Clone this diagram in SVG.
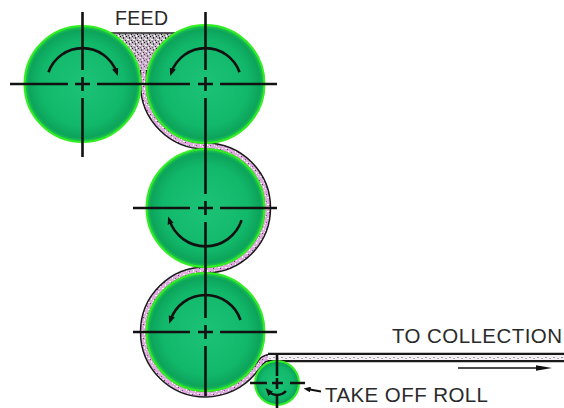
<svg xmlns="http://www.w3.org/2000/svg" width="564" height="408" viewBox="0 0 564 408">
  <defs>
    <radialGradient id="rollFill" cx="50%" cy="50%" r="50%">
      <stop offset="0" stop-color="#1cc377"/>
      <stop offset="0.72" stop-color="#12b86a"/>
      <stop offset="0.93" stop-color="#0ca45a"/>
      <stop offset="1" stop-color="#20d048"/>
    </radialGradient>
    <!-- grainy web material -->
    <pattern id="pinkGrain" width="7" height="7" patternUnits="userSpaceOnUse">
      <rect width="7" height="7" fill="#dfaadf"/>
      <rect x="1" y="1" width="2" height="1" fill="#ffffff"/>
      <rect x="4" y="4" width="1" height="2" fill="#ffffff"/>
      <rect x="5" y="1" width="1" height="1" fill="#f6e6f6"/>
      <rect x="3" y="2" width="1" height="1" fill="#6a3a6a"/>
      <rect x="0" y="5" width="1" height="1" fill="#8a508a"/>
      <rect x="6" y="6" width="1" height="1" fill="#ffffff"/>
    </pattern>
    <pattern id="grit" width="6" height="6" patternUnits="userSpaceOnUse">
      <rect width="6" height="6" fill="#b8b0b8"/>
      <rect x="0" y="0" width="1" height="1" fill="#111"/>
      <rect x="3" y="1" width="1" height="2" fill="#333"/>
      <rect x="1" y="3" width="2" height="1" fill="#fff"/>
      <rect x="5" y="4" width="1" height="1" fill="#222"/>
      <rect x="4" y="0" width="1" height="1" fill="#fff"/>
      <rect x="2" y="5" width="1" height="1" fill="#555"/>
      <rect x="0" y="2" width="1" height="1" fill="#eee"/>
      <rect x="4" y="5" width="1" height="1" fill="#fff"/>
    </pattern>
    <pattern id="lightGrain" width="8" height="4" patternUnits="userSpaceOnUse">
      <rect width="8" height="4" fill="#f2f0f2"/>
      <rect x="1" y="1" width="2" height="1" fill="#9a9a9a"/>
      <rect x="5" y="2" width="2" height="1" fill="#b0b0b0"/>
    </pattern>
    <linearGradient id="feedTint" gradientUnits="userSpaceOnUse" x1="0" y1="38" x2="0" y2="86">
      <stop offset="0" stop-color="#e0a8e0" stop-opacity="0"/>
      <stop offset="1" stop-color="#e0a8e0" stop-opacity="0.8"/>
    </linearGradient>
    <marker id="head" viewBox="0 0 10 8" refX="5" refY="4" markerWidth="8" markerHeight="7" markerUnits="userSpaceOnUse" orient="auto">
      <path d="M0,0 L10,4 L0,8 z" fill="#111"/>
    </marker>
    <marker id="smallHead" viewBox="0 0 10 8" refX="5" refY="4" markerWidth="7" markerHeight="6" markerUnits="userSpaceOnUse" orient="auto">
      <path d="M0,0 L10,4 L0,8 z" fill="#111"/>
    </marker>
  </defs>
  <style>
    .roll { fill: url(#rollFill); stroke: #33ee22; stroke-width: 2; }
    .axis { stroke: #111; stroke-width: 2.6; fill: none; }
    .spin { stroke: #111; stroke-width: 2.6; fill: none; marker-end: url(#head); }
    .label { font-family: "Liberation Sans", Arial, sans-serif; fill: #2a2a2a; }
    .webEdge { fill: none; stroke: #1a1a1a; stroke-width: 7.5; }
    .webBody { fill: none; stroke: url(#pinkGrain); stroke-width: 4.5; }
  </style>

  <!-- feed hopper above the first nip -->
  <g id="feed">
    <polygon points="110,33 176,33 165,55 151,75 146,92 141,92 136,75 122,55" fill="url(#grit)"/>
    <polygon points="110,33 176,33 165,55 151,75 146,92 141,92 136,75 122,55" fill="url(#feedTint)"/>
    <line x1="111" y1="33" x2="176" y2="33" stroke="#222" stroke-width="1.5"/>
  </g>

  <!-- web path through the rolls -->
  <g id="connectors">
    <path class="webEdge" d="M143.5,70 L143.5,84 A62 62 0 0 0 205.5 146 A62 62 0 0 1 267.5 208 A62 62 0 0 1 205.5 270 A62 62 0 0 0 143.5 332 A62 62 0 0 0 205.5 394 A62 62 0 0 0 253 371.9 L259 364.8 Q263 357.5 271 357.5 L566 357.5"/>
    <path class="webBody" d="M143.5,70 L143.5,84 A62 62 0 0 0 205.5 146 A62 62 0 0 1 267.5 208 A62 62 0 0 1 205.5 270 A62 62 0 0 0 143.5 332 A62 62 0 0 0 205.5 394 A62 62 0 0 0 253 371.9 L259 364.8 Q263 357.5 271 357.5 L566 357.5"/>
    <path d="M268,357.5 L566,357.5" stroke="#1a1a1a" stroke-width="9.5" fill="none"/>
    <path d="M268,357.5 L566,357.5" stroke="url(#lightGrain)" stroke-width="5" fill="none"/>
    <!-- travel direction -->
    <line x1="458" y1="368" x2="540" y2="368" stroke="#111" stroke-width="1.5"/>
    <polygon points="536,365.2 552,368 536,370.8" fill="#111"/>
    <!-- leader to take off roll -->
    <path d="M321,391.5 L307,389" stroke="#111" stroke-width="2" fill="none" marker-end="url(#smallHead)"/>
  </g>

  <g id="roll1">
    <circle class="roll" cx="82.5" cy="84" r="58"/>
    <path class="axis" d="M10,84H68 M75,84H90 M97,84H140 M82.5,12V70 M82.5,77V91 M82.5,98V157"/>
    <path class="spin" d="M48.5,72.3 A36 36 0 0 1 116.5 72.3"/>
  </g>

  <g id="roll2">
    <circle class="roll" cx="205.5" cy="84" r="59"/>
    <path class="axis" d="M140,84H190 M198,84H213 M220,84H277 M205.5,12V70 M205.5,77V91 M205.5,98V146"/>
    <path class="spin" d="M239.5,72.3 A36 36 0 0 0 171.5 72.3"/>
  </g>

  <g id="roll3">
    <circle class="roll" cx="205.5" cy="208" r="59"/>
    <path class="axis" d="M133,208H190 M198,208H213 M220,208H277 M205.5,146V194 M205.5,201V215 M205.5,222V270"/>
    <path class="spin" d="M241.6,220.2 A38 38 0 0 1 169.4 220.2"/>
  </g>

  <g id="roll4">
    <circle class="roll" cx="205.5" cy="332" r="59"/>
    <path class="axis" d="M133,332H190 M198,332H213 M220,332H277 M205.5,270V318 M205.5,325V339 M205.5,346V396"/>
    <path class="spin" d="M240.5,320 A37 37 0 0 0 170.5 320"/>
  </g>

  <g id="takeOffRoll">
    <circle class="roll" cx="277" cy="383" r="22"/>
    <path class="axis" d="M250,383H267 M272,383H283 M290,383H305 M277,355V376 M277,378V389 M277,395V408"/>
    <path class="spin" d="M285.9,391 A12 12 0 0 1 268.1 391"/>
  </g>

  <g id="labels">
    <text class="label" x="115" y="25" font-size="19.5" textLength="53" lengthAdjust="spacing">FEED</text>
    <text class="label" x="392" y="343" font-size="20.5" textLength="170" lengthAdjust="spacing">TO COLLECTION</text>
    <text class="label" x="325" y="402" font-size="20.5" textLength="163" lengthAdjust="spacing">TAKE OFF ROLL</text>
  </g>
</svg>
